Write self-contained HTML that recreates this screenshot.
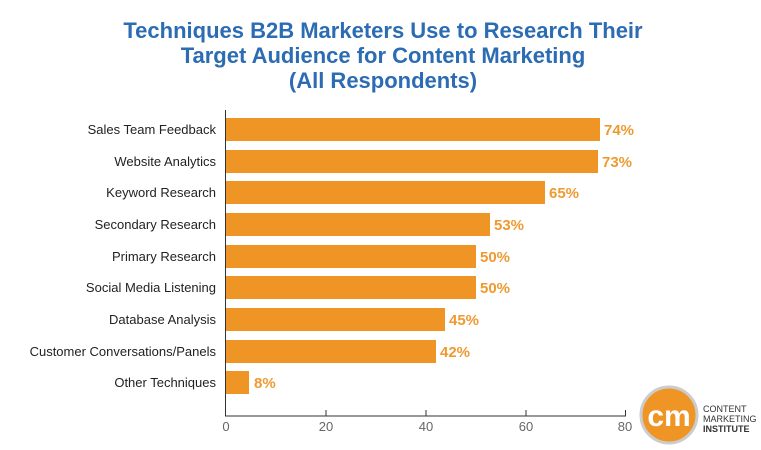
<!DOCTYPE html>
<html><head><meta charset="utf-8"><style>
body{margin:0;background:#fff;width:761px;height:445px;overflow:hidden;font-family:"Liberation Sans",sans-serif}
</style></head><body>
<svg width="761" height="445" xmlns="http://www.w3.org/2000/svg" font-family="Liberation Sans, sans-serif">
<g fill="#2b6cb3" font-weight="bold" font-size="22" text-anchor="middle">
<text x="383" y="38">Techniques B2B Marketers Use to Research Their</text>
<text x="383" y="63">Target Audience for Content Marketing</text>
<text x="383" y="88">(All Respondents)</text>
</g>
<g font-size="13" fill="#222" text-anchor="end">
<text x="216" y="134">Sales Team Feedback</text>
<text x="216" y="166">Website Analytics</text>
<text x="216" y="197">Keyword Research</text>
<text x="216" y="229">Secondary Research</text>
<text x="216" y="261">Primary Research</text>
<text x="216" y="292">Social Media Listening</text>
<text x="216" y="324">Database Analysis</text>
<text x="216" y="356">Customer Conversations/Panels</text>
<text x="216" y="387">Other Techniques</text>
</g>
<g fill="#ee9526">
<rect x="226" y="118" width="374" height="23"/>
<rect x="226" y="150" width="372" height="23"/>
<rect x="226" y="181" width="319" height="23"/>
<rect x="226" y="213" width="264" height="23"/>
<rect x="226" y="245" width="250" height="23"/>
<rect x="226" y="276" width="250" height="23"/>
<rect x="226" y="308" width="219" height="23"/>
<rect x="226" y="340" width="210" height="23"/>
<rect x="226" y="371" width="23" height="23"/>
</g>
<g fill="#ef9a30" font-weight="bold" font-size="15">
<text x="604" y="135">74%</text>
<text x="602" y="167">73%</text>
<text x="549" y="198">65%</text>
<text x="494" y="230">53%</text>
<text x="480" y="262">50%</text>
<text x="480" y="293">50%</text>
<text x="449" y="325">45%</text>
<text x="440" y="357">42%</text>
<text x="254" y="388">8%</text>
</g>
<line x1="225.5" y1="110" x2="225.5" y2="416" stroke="#333" stroke-width="1"/>
<line x1="225" y1="416" x2="626" y2="416" stroke="#333" stroke-width="1"/>
<g stroke="#333"><line x1="326" y1="410" x2="326" y2="416"/><line x1="426" y1="410" x2="426" y2="416"/><line x1="526" y1="410" x2="526" y2="416"/><line x1="625.5" y1="410" x2="625.5" y2="416"/></g>
<g font-size="13" fill="#666" text-anchor="middle">
<text x="226" y="431">0</text><text x="326" y="431">20</text><text x="426" y="431">40</text><text x="526" y="431">60</text><text x="625" y="431">80</text>
</g>
<circle cx="669" cy="415" r="28" fill="#ee9526" stroke="#ccc" stroke-width="3"/>
<text x="669" y="426" font-size="30" font-weight="bold" fill="#fff" text-anchor="middle">cm</text>
<g font-size="9" fill="#333"><text x="703" y="412">CONTENT</text><text x="703" y="422">MARKETING</text><text x="703" y="432" font-weight="bold">INSTITUTE</text></g>
</svg>
</body></html>
